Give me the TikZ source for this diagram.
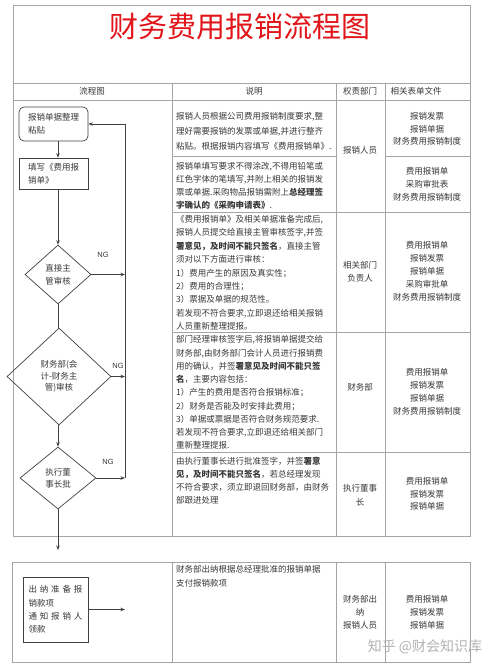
\documentclass[tikz,border=0pt]{standalone}
\usepackage{fontspec}
\setmainfont{Noto Sans CJK SC}
\newfontfamily\ngfont{Liberation Sans}
\usetikzlibrary{arrows.meta, shapes.geometric}

\definecolor{titlered}{RGB}{225,20,25}
\definecolor{tablegray}{RGB}{165,165,165}
\definecolor{inkgray}{RGB}{55,55,55}

\begin{document}
\begin{tikzpicture}[x=1pt, y=-1pt,
    grid/.style={draw=tablegray, line width=0.8pt},
    flowline/.style={draw=black!75, line width=0.7pt},
    arrowed/.style={flowline, -{Stealth[length=4.5pt, width=3.5pt]}},
    stepbox/.style={draw=black!75, line width=0.7pt, align=left, text=inkgray, inner ysep=0pt, font=\fontsize{8.5}{13}\selectfont},
    check/.style={diamond, draw=black!75, line width=0.7pt, inner sep=0pt, align=center, text=inkgray},
    note/.style={anchor=north west, inner sep=0pt, align=left, text=inkgray, font=\fontsize{8.5}{#1}\selectfont},
    cell/.style={inner sep=0pt, align=center, text=inkgray, font=\fontsize{8.5}{#1}\selectfont},
    ng/.style={text=black!80, font=\ngfont\fontsize{7.5}{9}\selectfont}]
    \useasboundingbox (0,0) rectangle (500,667);

    % Title
    \node[text=titlered, font=\fontsize{29}{32}\selectfont] (title) at (240,27) {财务费用报销流程图};

    % Upper table
    \draw[grid] (13,5) rectangle (470,536);
    \draw[grid] (13,83) -- (470,83);
    \draw[grid] (13,100) -- (470,100);
    \foreach \x in {172,336,385} {
        \draw[grid] (\x,83) -- (\x,536);
    }
    \foreach \y in {156,212,332,452} {
        \draw[grid] (172,\y) -- (336,\y);
        \draw[grid] (385,\y) -- (470,\y);
    }
    \foreach \y in {212,332,452} {
        \draw[grid] (336,\y) -- (385,\y);
    }

    % Lower table
    \draw[grid] (12,562) rectangle (470,662);
    \foreach \x in {172,336,385} {
        \draw[grid] (\x,562) -- (\x,662);
    }

    % Header
    \node[cell=10] (hflow) at (92,91.5) {流程图};
    \node[cell=10] (hnote) at (254,91.5) {说明};
    \node[cell=10] (hdept) at (360,91.5) {权责部门};
    \node[cell=10] (hform) at (416,91.5) {相关表单文件};

    % Flow chart
    \node[stepbox, rounded corners=5pt, text width=51pt, inner xsep=9pt, minimum height=34pt] (tidy) at (53.5,124) {报销单据整理\\粘贴};
    \node[stepbox, text width=51pt, inner xsep=9pt, minimum height=31pt] (fill) at (53.5,173.5) {填写《费用报\\销单》};
    \node[check, minimum width=66pt, minimum height=59pt, font=\fontsize{8.5}{13}\selectfont] (mgr) at (58,274.5) {直接主\\管审核};
    \node[check, minimum width=104pt, minimum height=97pt, font=\fontsize{8.5}{11.5}\selectfont] (fin) at (59,376.5) {财务部(会\\计-财务主\\管)审核};
    \node[check, minimum width=76pt, minimum height=62pt, font=\fontsize{8.5}{12}\selectfont] (ceo) at (58,478) {执行董\\事长批};
    \node[stepbox, text width=54pt, inner xsep=5.5pt, minimum height=65pt, font=\fontsize{8.5}{13.3}\selectfont] (pay) at (55.5,609.5)
        {\makebox[54pt][s]{出\hfill 纳\hfill 准\hfill 备\hfill 报}\\销款项\\\makebox[54pt][s]{通\hfill 知\hfill 报\hfill 销\hfill 人}\\领款};

    \coordinate (loop) at (125,0);
    \coordinate (handoff) at (58,550);

    \draw[arrowed] (tidy.south -| mgr.north) -- (fill.north -| mgr.north);
    \draw[arrowed] (fill.south -| mgr.north) -- (mgr.north);
    \draw[flowline] (mgr.south) -- (mgr.south |- fin.north);
    \draw[arrowed] (fin.south -| mgr.south) -- (ceo.north);
    \draw[arrowed] (ceo.south) -- (handoff);

    % NG returns
    \draw[arrowed] (mgr.east) -- (mgr.east -| loop);
    \draw[arrowed] (fin.east) -- (fin.east -| loop);
    \draw[arrowed] (ceo.east) -- (ceo.east -| loop);
    \draw[arrowed] (ceo.east -| loop) -- (tidy.east -| loop) -- (tidy.east);
    \node[ng] (ng1) at (103,255) {NG};
    \node[ng] (ng2) at (118,366) {NG};
    \node[ng] (ng3) at (108,462) {NG};

    \draw[arrowed] (pay.east) -- (pay.east -| loop);

    % Notes
    \node[note=15] (n1) at (176,112) {报销人员根据公司费用报销制度要求,整\\理好需要报销的发票或单据,并进行整齐\\粘贴。根据报销内容填写《费用报销单》.};
    \node[note=13] (n2) at (176,162.5) {报销单填写要求不得涂改,不得用铅笔或\\红色字体的笔填写,并附上相关的报销发\\票或单据.采购物品报销需附上\textbf{总经理签}\\\textbf{字确认的《采购申请表》}.};
    \node[note=13.4] (n3) at (176,215) {《费用报销单》及相关单据准备完成后,\\报销人员提交给直接主管审核签字,并签\\\textbf{署意见，及时间不能只签名}，直接主管\\须对以下方面进行审核：\\1）费用产生的原因及真实性；\\2）费用的合理性；\\3）票据及单据的规范性。\\若发现不符合要求,立即退还给相关报销\\人员重新整理提报。};
    \node[note=13.25] (n4) at (176,335.5) {部门经理审核签字后,将报销单据提交给\\财务部,由财务部门会计人员进行报销费\\用的确认，并签\textbf{署意见及时间不能只签}\\\textbf{名}，主要内容包括：\\1）产生的费用是否符合报销标准；\\2）财务是否能及时安排此费用；\\3）单据或票据是否符合财务规范要求.\\若发现不符合要求,立即退还给相关部门\\重新整理提报.};
    \node[note=13.3] (n5) at (176,456.5) {由执行董事长进行批准签字，并签\textbf{署意}\\\textbf{见，及时间不能只签名}，若总经理发现\\不符合要求，须立即退回财务部，由财务\\部跟进处理};
    \node[note=14] (n6) at (176,565.5) {财务部出纳根据总经理批准的报销单据\\支付报销款项};

    % Departments
    \node[cell=13] (d1) at (360,150) {报销人员};
    \node[cell=13] (d3) at (360,272) {相关部门\\负责人};
    \node[cell=13] (d4) at (360,387) {财务部};
    \node[cell=14] (d5) at (360,495) {执行董事\\长};
    \node[cell=13] (d6) at (360,612) {财务部出\\纳\\报销人员};

    % Forms
    \node[cell=12.5] (f1) at (427,129) {报销发票\\报销单据\\财务费用报销制度};
    \node[cell=13] (f2) at (427,184) {费用报销单\\采购审批表\\财务费用报销制度};
    \node[cell=13] (f3) at (427,271) {费用报销单\\报销发票\\报销单据\\采购审批单\\财务费用报销制度};
    \node[cell=13] (f4) at (427,392) {费用报销单\\报销发票\\报销单据\\财务费用报销制度};
    \node[cell=12.5] (f5) at (427,494) {费用报销单\\报销发票\\报销单据};
    \node[cell=13] (f6) at (427,612) {费用报销单\\报销发票\\报销单据};

    % Watermark
    \node[text=black!30, font=\fontsize{14}{16}\selectfont] (zhihu) at (425,647) {知乎 @财会知识库};
\end{tikzpicture}
\end{document}
